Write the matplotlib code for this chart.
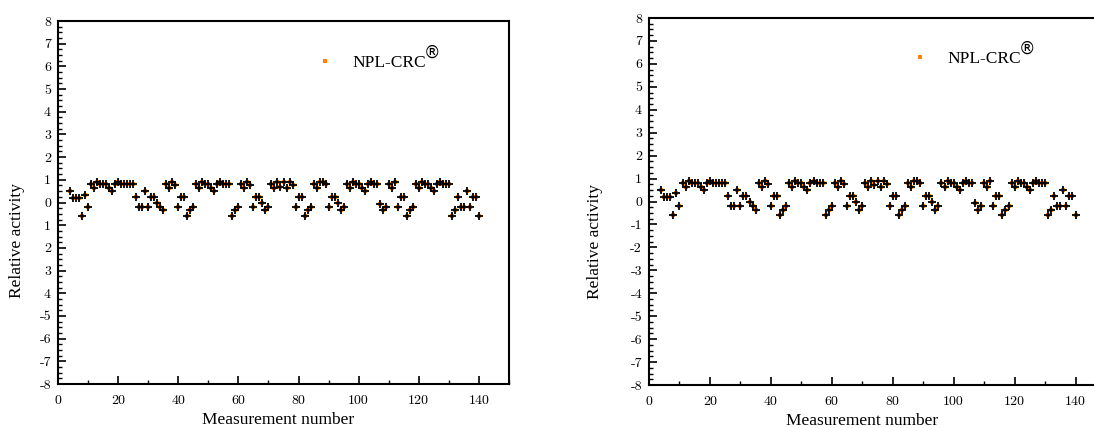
import matplotlib
matplotlib.use("Agg")
import matplotlib.pyplot as plt
from matplotlib.ticker import MultipleLocator

measurement = list(range(4, 141))
activity = [
    0.5, 0.2, 0.2, 0.2, -0.6, 0.35, -0.2,                       # 4-10
    0.8, 0.65, 0.9, 0.8, 0.8, 0.8, 0.65, 0.5, 0.8, 0.9,         # 11-20
    0.8, 0.8, 0.8, 0.8, 0.8, 0.25, -0.2, -0.2, 0.5, -0.2,       # 21-30
    0.25, 0.25, 0.0, -0.2, -0.35, 0.8, 0.65, 0.9, 0.75, -0.2,   # 31-40
    0.25, 0.25, -0.6, -0.35, -0.2, 0.8, 0.65, 0.9, 0.8, 0.8,    # 41-50
    0.65, 0.5, 0.8, 0.9, 0.8, 0.8, 0.8, -0.6, -0.35, -0.2,      # 51-60
    0.8, 0.65, 0.9, 0.75, -0.2, 0.25, 0.25, 0.0, -0.35, -0.2,   # 61-70
    0.8, 0.65, 0.9, 0.7, 0.9, 0.65, 0.9, 0.75, -0.2, 0.25,      # 71-80
    0.25, -0.6, -0.35, -0.2, 0.8, 0.65, 0.9, 0.9, 0.8, -0.2,    # 81-90
    0.25, 0.25, 0.0, -0.35, -0.2, 0.8, 0.65, 0.9, 0.8, 0.8,     # 91-100
    0.65, 0.5, 0.8, 0.9, 0.8, 0.8, -0.05, -0.35, -0.2, 0.8,     # 101-110
    0.65, 0.9, -0.2, 0.25, 0.25, -0.6, -0.35, -0.2, 0.8, 0.65,  # 111-120
    0.9, 0.8, 0.8, 0.65, 0.5, 0.8, 0.9, 0.8, 0.8, 0.8,          # 121-130
    -0.6, -0.35, 0.25, -0.2, -0.2, 0.5, -0.2, 0.25, 0.25, -0.6, # 131-140
]

legend_label = "NPL-CRC"
legend_mark = "$\\circledR$"
x_label = "Measurement number"
y_label = "Relative activity"
x_ticks = [0, 20, 40, 60, 80, 100, 120, 140]
y_ticks = list(range(-8, 9))
y_ticklabels_left = ["-8", "-7", "-6", "-5", "4", "3", "2", "1", "0",
                     "1", "2", "3", "4", "5", "6", "7", "8"]
y_ticklabels_right = [str(v) for v in y_ticks]

ORANGE = "#ff7f0e"
W, H = 1094, 428

fig = plt.figure(figsize=(W/100, H/100), dpi=100)
ax1 = fig.add_axes([58/W, 1-384/H, (509-58)/W, (384-21)/H])
ax2 = fig.add_axes([649/W, 1-385/H, (1106-649)/W, (385-18)/H])

panels = [
    # axes, y labels, legend anchor, ylabel coords, xlabel coords
    (ax1, y_ticklabels_left, (0.572, 0.885), (-0.073, 0.395), (0.488, -0.078)),
    (ax2, y_ticklabels_right, (0.573, 0.888), (-0.10, 0.39), (0.466, -0.075)),
]

legends = []
for ax, ylabels, leg_anchor, ylc, xlc in panels:
    ax.plot(measurement, activity, linestyle="none", marker="s",
            markersize=3.5, color=ORANGE, markeredgewidth=0, label=legend_label,
            zorder=2)
    ax.plot(measurement, activity, linestyle="none", marker="+",
            markersize=6, color="black", markeredgewidth=1.3, zorder=3)
    ax.set_xlim(0, 150)
    ax.set_ylim(-8, 8)
    ax.set_xticks(x_ticks)
    ax.set_xticklabels([str(t) for t in x_ticks], fontfamily="cmr10", fontsize=10)
    ax.set_yticks(y_ticks)
    ax.set_yticklabels(ylabels, fontfamily="cmr10", fontsize=10)
    ax.xaxis.set_minor_locator(MultipleLocator(10))
    ax.yaxis.set_minor_locator(MultipleLocator(0.25))
    ax.tick_params(which="both", direction="in", top=False, right=False)
    ax.tick_params(which="major", length=6, width=1.2)
    ax.tick_params(axis="x", which="major", pad=8)
    ax.tick_params(axis="y", which="major", pad=5)
    ax.tick_params(which="minor", length=3, width=1.0)
    for s in ax.spines.values():
        s.set_linewidth(1.5)
    ax.set_xlabel(x_label, fontfamily="Liberation Serif", fontsize=12.5)
    ax.set_ylabel(y_label, fontfamily="Liberation Serif", fontsize=12.5)
    ax.yaxis.set_label_coords(*ylc)
    ax.xaxis.set_label_coords(*xlc)
    leg = ax.legend(loc="center left", bbox_to_anchor=leg_anchor, frameon=False,
                    prop={"family": "Liberation Serif", "size": 12.5},
                    handlelength=1.0, handletextpad=1.1, borderpad=0,
                    borderaxespad=0)
    legends.append(leg)

# Registered-trademark sign as a raised superscript after the legend text
fig.canvas.draw()
renderer = fig.canvas.get_renderer()
for leg in legends:
    bb = leg.get_texts()[0].get_window_extent(renderer)
    x = bb.x1 - 3
    y = (bb.y0 + bb.y1) / 2 + 10
    fig.text(x / W, y / H, legend_mark, fontsize=12, ha="left", va="center")

fig.savefig("out.png", dpi=100)
